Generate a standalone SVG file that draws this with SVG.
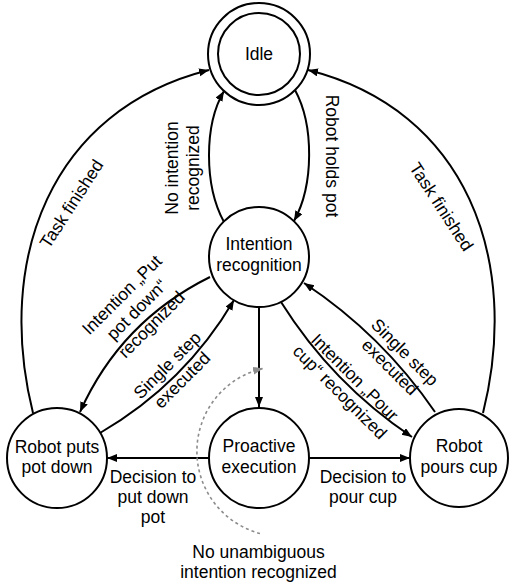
<svg xmlns="http://www.w3.org/2000/svg" width="509" height="587" viewBox="0 0 509 587">
<style>
.n{fill:#fff;stroke:#000;stroke-width:2}
.e{fill:none;stroke:#000;stroke-width:2}
.d{fill:none;stroke:#8c8c8c;stroke-width:1.6;stroke-dasharray:3,3}
text{font-family:"Liberation Sans",Arial,sans-serif;font-size:17.5px;fill:#000;text-anchor:middle}
</style>
<defs>
<marker id="a" markerUnits="userSpaceOnUse" markerWidth="11" markerHeight="9" refX="10" refY="4" orient="auto"><path d="M0,0 L10,4 L0,8 z" fill="#000"/></marker>
<marker id="g" markerUnits="userSpaceOnUse" markerWidth="11" markerHeight="9" refX="10" refY="4" orient="auto"><path d="M0,0 L10,4 L0,8 z" fill="#8c8c8c"/></marker>
</defs>
<g id="connectors">
<path class="e" d="M295,90 C314,125 314,185 294,221" marker-end="url(#a)"/>
<path class="e" d="M224,222 C204,185 204,125 224,91" marker-end="url(#a)"/>
<path class="e" d="M33,413 C-5,260 50,110 209,70" marker-end="url(#a)"/>
<path class="e" d="M483,413 C521,260 467,110 308,70" marker-end="url(#a)"/>
<path class="e" d="M210,277 C150.5,306.5 107.1,351.5 80,412" marker-end="url(#a)"/>
<path class="e" d="M100,433 C156.7,400 201.3,355.7 234,300" marker-end="url(#a)"/>
<path class="e" d="M435,412 C399.7,360.5 356.1,317.5 304,283" marker-end="url(#a)"/>
<path class="e" d="M281,302 C315.1,356.3 358.7,401.3 412,437" marker-end="url(#a)"/>
<path class="e" d="M259,307 L259,407" marker-end="url(#a)"/>
<path class="e" d="M209,458 L107,458" marker-end="url(#a)"/>
<path class="e" d="M309,458 L410,458" marker-end="url(#a)"/>
<path class="d" d="M260,533.5 A85,85 0 0 1 263,368.5" marker-end="url(#g)"/>
</g>
<g id="edge-labels">
<text transform="translate(72,204) rotate(-57)" y="5.5">Task finished</text>
<text transform="translate(441,207) rotate(57)" y="5.5">Task finished</text>
<text transform="translate(183,168) rotate(-90)"><tspan x="0" y="-5">No intention</tspan><tspan x="0" y="16">recognized</tspan></text>
<text transform="translate(331,156) rotate(90)" y="5.5">Robot holds pot</text>
<text transform="translate(137,310) rotate(-45)"><tspan x="0" y="-15.5">Intention „Put</tspan><tspan x="0" y="5.5">pot down“</tspan><tspan x="0" y="26.5">recognized</tspan></text>
<text transform="translate(175,373) rotate(-45)"><tspan x="0" y="-5">Single step</tspan><tspan x="0" y="16">executed</tspan></text>
<text transform="translate(397,360) rotate(45)"><tspan x="0" y="-5">Single step</tspan><tspan x="0" y="16">executed</tspan></text>
<text transform="translate(347,385) rotate(45)"><tspan x="0" y="-5">Intention „Pour</tspan><tspan x="0" y="16">cup“ recognized</tspan></text>
<text><tspan x="153" y="483">Decision to</tspan><tspan x="153" y="503">put down</tspan><tspan x="153" y="523">pot</tspan></text>
<text><tspan x="363" y="483">Decision to</tspan><tspan x="363" y="503">pour cup</tspan></text>
<text><tspan x="258.5" y="558">No unambiguous</tspan><tspan x="258.5" y="578">intention recognized</tspan></text>
</g>
<g id="idle">
<circle class="n" cx="259" cy="54" r="51"/>
<circle class="n" cx="259" cy="54" r="41"/>
<text x="259" y="60">Idle</text>
</g>
<g id="intention-recognition">
<circle class="n" cx="259" cy="257" r="50"/>
<text><tspan x="259" y="250">Intention</tspan><tspan x="259" y="271">recognition</tspan></text>
</g>
<g id="robot-puts-pot-down">
<circle class="n" cx="57" cy="458" r="50"/>
<text><tspan x="57" y="453">Robot puts</tspan><tspan x="57" y="473">pot down</tspan></text>
</g>
<g id="proactive-execution">
<circle class="n" cx="259" cy="458" r="50"/>
<text><tspan x="259" y="452">Proactive</tspan><tspan x="259" y="473">execution</tspan></text>
</g>
<g id="robot-pours-cup">
<circle class="n" cx="459" cy="458" r="49"/>
<text><tspan x="459" y="452">Robot</tspan><tspan x="459" y="473">pours cup</tspan></text>
</g>
</svg>
